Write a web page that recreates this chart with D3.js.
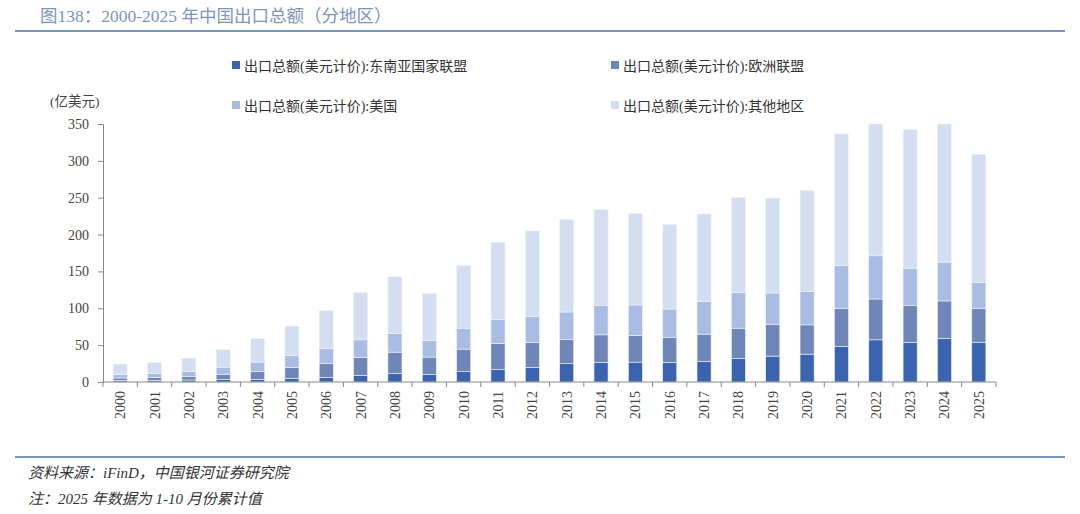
<!DOCTYPE html>
<html>
<head>
<meta charset="utf-8">
<script src="https://cdn.jsdelivr.net/npm/d3@7"></script>
<style>
  body { margin: 0; background: #fff; }
  svg text { font-family: "Liberation Serif", "Noto Sans CJK SC", serif; }
</style>
</head>
<body>
<div id="chart"></div>
<script>
// years and series values (亿美元)
var years = ["2000","2001","2002","2003","2004","2005","2006","2007","2008","2009","2010","2011","2012",
             "2013","2014","2015","2016","2017","2018","2019","2020","2021","2022","2023","2024","2025"];
var asean  = [2.3, 2.3, 2.7, 3.6, 3.6, 5.0, 6.3, 9.0, 11.3, 10.4, 14.0, 16.7, 19.8,
              24.8, 26.6, 27.0, 26.6, 27.9, 32.0, 35.1, 37.8, 48.2, 57.2, 53.6, 59.0, 54.0];
var eu     = [3.2, 4.0, 4.5, 6.3, 10.8, 14.8, 18.5, 24.3, 29.2, 23.4, 30.6, 35.6, 33.8,
              32.9, 37.4, 36.0, 33.8, 37.0, 41.0, 43.3, 39.7, 51.8, 55.4, 50.0, 51.0, 46.0];
var usa    = [4.5, 5.0, 6.8, 9.5, 12.6, 15.8, 20.7, 23.9, 25.3, 22.5, 28.4, 32.4, 35.1,
              37.3, 39.6, 41.5, 38.6, 44.1, 48.2, 42.3, 45.0, 57.7, 58.6, 50.9, 52.6, 35.1];
var others = [14.3, 15.3, 18.4, 24.3, 32.0, 40.4, 51.3, 64.4, 77.0, 64.0, 84.7, 104.9, 116.3,
              125.7, 130.6, 123.9, 114.5, 119.0, 128.8, 128.8, 137.5, 178.8, 178.8, 187.8, 187.4, 173.9];

var seriesNames = ["出口总额(美元计价):东南亚国家联盟", "出口总额(美元计价):欧洲联盟",
                   "出口总额(美元计价):美国", "出口总额(美元计价):其他地区"];
var colors = ["#3a64b0", "#6f86b8", "#a9bce3", "#d3dff1"];
var yTicks = [0, 50, 100, 150, 200, 250, 300, 350];

var width = 1080, height = 514;
var margin = { top: 124, right: 84, bottom: 132, left: 103 };
var plotW = width - margin.left - margin.right;
var plotH = height - margin.top - margin.bottom;

var svg = d3.select("#chart").append("svg")
  .attr("width", width)
  .attr("height", height);

// Title and rules
svg.append("text")
  .attr("x", 40).attr("y", 22)
  .style("font-size", "17.5px")
  .style("fill", "#7d93c0")
  .text("图138：2000-2025 年中国出口总额（分地区）");

svg.append("line")
  .attr("x1", 15).attr("x2", 1065).attr("y1", 31).attr("y2", 31)
  .style("stroke", "#7d93c0").style("stroke-width", 2);

svg.append("line")
  .attr("x1", 15).attr("x2", 1065).attr("y1", 457).attr("y2", 457)
  .style("stroke", "#7d93c0").style("stroke-width", 2);

svg.append("text")
  .attr("x", 28).attr("y", 478)
  .style("font-size", "15px").style("font-style", "italic").style("fill", "#333")
  .text("资料来源：iFinD，中国银河证券研究院");

svg.append("text")
  .attr("x", 28).attr("y", 504)
  .style("font-size", "15px").style("font-style", "italic").style("fill", "#333")
  .text("注：2025 年数据为 1-10 月份累计值");

// Stack data
var table = years.map(function(y, i) {
  return { year: y, a: asean[i], e: eu[i], u: usa[i], o: others[i] };
});
var stack = d3.stack().keys(["a", "e", "u", "o"]);
var layers = stack(table);

var x = d3.scaleBand().domain(years).range([0, plotW]).paddingInner(0.59).paddingOuter(0.295);
var y = d3.scaleLinear().domain([0, 350]).range([plotH, 0]);

var g = svg.append("g")
  .attr("transform", "translate(" + margin.left + "," + margin.top + ")");

g.selectAll(".layer")
  .data(layers)
  .enter().append("g")
  .attr("class", "layer")
  .style("fill", function(d, i) { return colors[i]; })
  .selectAll("rect")
  .data(function(d) { return d; })
  .enter().append("rect")
  .attr("x", function(d) { return x(d.data.year); })
  .attr("width", x.bandwidth())
  .attr("y", function(d) { return y(Math.min(350, d[1])); })
  .attr("height", function(d) { return y(d[0]) - y(Math.min(350, d[1])); })
  .style("stroke", "#eef2f9")
  .style("stroke-width", 0.6);

// Y axis
var yAxis = g.append("g")
  .call(d3.axisLeft(y).tickValues(yTicks).tickSize(5).tickPadding(9));
yAxis.select(".domain").style("stroke", "#888");
yAxis.selectAll(".tick line").style("stroke", "#888");
yAxis.selectAll("text")
  .style("font-size", "14px")
  .style("fill", "#444");

// X axis: ticks between categories
var xAxis = g.append("g")
  .attr("transform", "translate(0," + plotH + ")");
xAxis.append("line")
  .attr("x1", 0).attr("x2", plotW)
  .style("stroke", "#888");
var step = x.step();
xAxis.selectAll(".sep")
  .data(d3.range(years.length + 1))
  .enter().append("line")
  .attr("x1", function(i) { return i * step; })
  .attr("x2", function(i) { return i * step; })
  .attr("y1", 0).attr("y2", 5)
  .style("stroke", "#888");
xAxis.selectAll(".lbl")
  .data(years)
  .enter().append("text")
  .attr("transform", function(d) {
    return "translate(" + (x(d) + x.bandwidth() / 2 + 5) + ",9) rotate(-90)";
  })
  .attr("text-anchor", "end")
  .style("font-size", "14px")
  .style("fill", "#444")
  .text(function(d) { return d; });

// Unit label
svg.append("text")
  .attr("x", 50).attr("y", 106)
  .style("font-size", "13.5px")
  .style("fill", "#444")
  .text("(亿美元)");

// Legend
var legendPos = [[232, 66], [611, 66], [232, 106], [611, 106]];
var legend = svg.selectAll(".legend")
  .data(seriesNames)
  .enter().append("g")
  .attr("class", "legend")
  .attr("transform", function(d, i) {
    return "translate(" + legendPos[i][0] + "," + legendPos[i][1] + ")";
  });
legend.append("rect")
  .attr("x", 0).attr("y", -5)
  .attr("width", 8).attr("height", 8)
  .style("fill", function(d, i) { return colors[i]; });
legend.append("text")
  .attr("x", 12).attr("y", 5)
  .style("font-size", "14px")
  .style("fill", "#333")
  .text(function(d) { return d; });
</script>
</body>
</html>
